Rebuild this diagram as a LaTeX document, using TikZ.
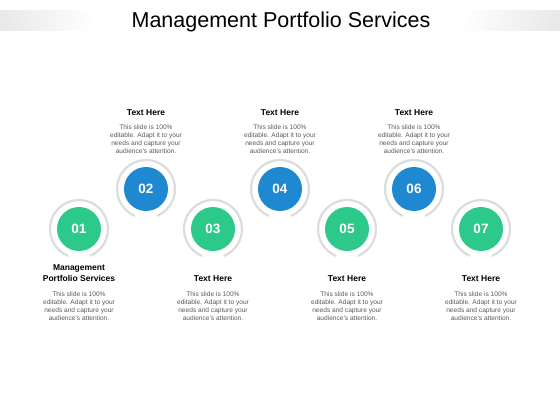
\documentclass[tikz,border=0pt]{standalone}
\usepackage{fontspec}
\setmainfont{Liberation Sans}
\usetikzlibrary{positioning}
\definecolor{mpgreen}{HTML}{2DC98A}
\definecolor{mpblue}{HTML}{1E88D0}
\definecolor{mpring}{HTML}{DCDCDC}
\definecolor{mpbody}{HTML}{595959}
\tikzset{
bubble/.style = {circle, minimum size=44pt, inner sep=0pt, text=white,
                 font=\fontsize{13.5}{13.5}\selectfont\bfseries},
greenbub/.style = {bubble, fill=mpgreen},
bluebub/.style = {bubble, fill=mpblue},
ring/.style = {draw=mpring, line width=2.2pt},
head/.style = {font=\fontsize{8.5}{11}\selectfont\bfseries, align=center, inner sep=0pt},
body/.style = {font=\fontsize{6.6}{8}\selectfont, text=mpbody, align=center, inner sep=0pt},
}
\newcommand{\bodytext}{This slide is 100\%\\editable. Adapt it to your\\needs and capture your\\audience's attention.}
\begin{document}
\begin{tikzpicture}[x=1pt,y=-1pt]
		\useasboundingbox (0,0) rectangle (560,420);
		% title band
		\shade [left color=black!9, right color=white] (0,11) rectangle (95,31);
		\shade [left color=white, right color=black!9] (462,11) rectangle (560,31);
		\node (title) at (281,22) {\fontsize{21.5}{21.5}\selectfont Management Portfolio Services};
		% circles
		\foreach \n/\x/\y/\s in {1/79/229/greenbub, 2/146/189/bluebub, 3/213/229/greenbub,
		                         4/280/189/bluebub, 5/347/229/greenbub, 6/414/189/bluebub,
		                         7/481/229/greenbub} {
				\draw [ring] (\x,\y) ++(112:29) arc (112:428:29);
				\node [\s] (c\n) at (\x,\y) {0\n};
			}
		% top texts
		\foreach \n/\x in {2/146, 4/280, 6/414} {
				\node [head] (h\n) at (\x,113) {Text Here};
				\node [body] (b\n) at (\x,139) {\bodytext};
			}
		% bottom texts
		\node [head] (h1) at (79,273.5) {Management\\Portfolio Services};
		\node [body] (b1) at (79,306) {\bodytext};
		\foreach \n/\x in {3/213, 5/347, 7/481} {
				\node [head] (h\n) at (\x,279) {Text Here};
				\node [body] (b\n) at (\x,306) {\bodytext};
			}
\end{tikzpicture}
\end{document}
